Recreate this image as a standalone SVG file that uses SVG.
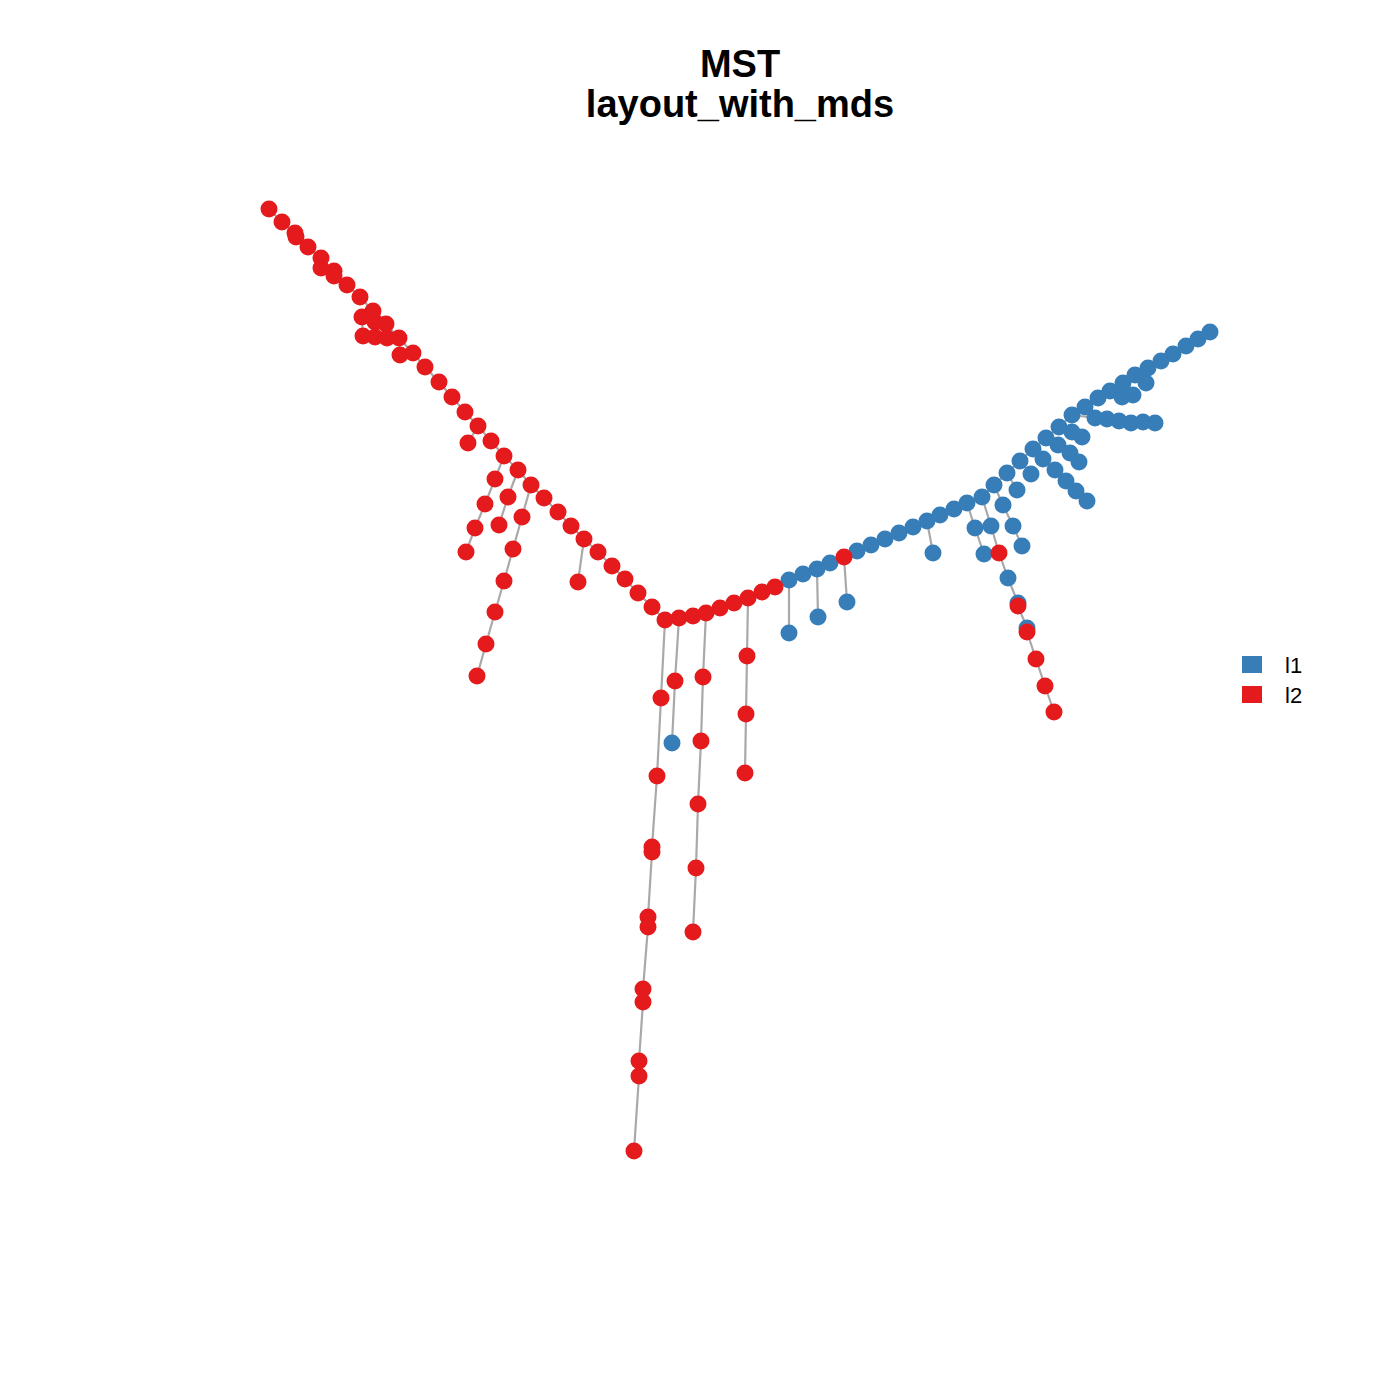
<svg xmlns="http://www.w3.org/2000/svg" width="1400" height="1400" viewBox="0 0 1400 1400">
<style>
.e{fill:none;stroke:#A9A9A9;stroke-width:2.2}
.b{fill:#377EB8}
.r{fill:#E41A1C}
.t{font-family:"Liberation Sans",Arial,sans-serif;font-weight:bold;font-size:38px;text-anchor:middle;fill:#000}
.l{font-family:"Liberation Sans",Arial,sans-serif;font-size:22px;fill:#000}
</style>
<rect width="1400" height="1400" fill="#fff"/>
<g id="title">
<text class="t" x="740" y="77">MST</text>
<text class="t" x="740" y="117">layout_with_mds</text>
</g>
<g id="edges">
<polyline class="e" points="269,209 282,222 295,233 296,237 308,247 321,258 321,268 334,271 334,276 347,285 360,297 373,311 386,324 399,338 413,353 425,367 439,382 452,397 465,412 478,426 491,441 504,456 518,470 531,485 544,498 558,512 571,526 584,539 598,552 612,566 625,579 638,593 652,607 665,620 679,618 693,616 706,613 720,608 734,603 748,598 762,592 775,587 789,580 803,574 817,569 830,563 844,557 857,551 871,545 885,539 899,533 913,527 927,521 940,515 954,509 967,503 982,497 994,485 1007,473 1020,461 1033,449 1046,438 1059,427 1072,415 1085,407 1098,398 1110,391 1123,383 1135,375 1148,368 1161,361 1173,354 1186,346 1198,339 1210,332"/>
<polyline class="e" points="373,311 362,317 363,336"/>
<polyline class="e" points="362,317 375,322 375,337"/>
<polyline class="e" points="386,324 387,338"/>
<polyline class="e" points="399,338 400,355"/>
<polyline class="e" points="478,426 468,443"/>
<polyline class="e" points="504,456 495,479 485,504 475,528 466,552"/>
<polyline class="e" points="518,470 508,497 499,525"/>
<polyline class="e" points="531,485 522,517 513,549 504,581 495,612 486,644 477,676"/>
<polyline class="e" points="584,539 578,582"/>
<polyline class="e" points="665,620 661,698 657,776 652,847 652,852 648,917 648,927 643,989 643,1002 639,1061 639,1076 634,1151"/>
<polyline class="e" points="679,618 675,681 672,743"/>
<polyline class="e" points="706,613 703,677 701,741 698,804 696,868 693,932"/>
<polyline class="e" points="748,598 747,656 746,714 745,773"/>
<polyline class="e" points="789,580 789,633"/>
<polyline class="e" points="817,569 818,617"/>
<polyline class="e" points="844,557 847,602"/>
<polyline class="e" points="927,521 933,553"/>
<polyline class="e" points="967,503 975,528 984,554"/>
<polyline class="e" points="982,497 991,526 999,553 1008,578 1018,603 1018,606 1027,628 1027,632 1036,659 1045,686 1054,712"/>
<polyline class="e" points="994,485 1003,505 1013,526 1022,546"/>
<polyline class="e" points="1007,473 1017,490"/>
<polyline class="e" points="1020,461 1031,474"/>
<polyline class="e" points="1033,449 1043,459 1055,470 1066,481 1076,491 1087,501"/>
<polyline class="e" points="1046,438 1058,445 1070,453 1079,462"/>
<polyline class="e" points="1059,427 1072,432 1082,437"/>
<polyline class="e" points="1072,415 1095,418 1107,419 1119,421 1131,423 1143,422 1155,423"/>
<polyline class="e" points="1110,391 1122,397 1133,395"/>
<polyline class="e" points="1135,375 1146,383"/>
</g>
<g id="nodes-l1">
<g id="b1"><circle class="b" cx="789" cy="580" r="8.5"/></g>
<g id="b2"><circle class="b" cx="803" cy="574" r="8.5"/></g>
<g id="b3"><circle class="b" cx="817" cy="569" r="8.5"/></g>
<g id="b4"><circle class="b" cx="830" cy="563" r="8.5"/></g>
<g id="b5"><circle class="b" cx="857" cy="551" r="8.5"/></g>
<g id="b6"><circle class="b" cx="871" cy="545" r="8.5"/></g>
<g id="b7"><circle class="b" cx="885" cy="539" r="8.5"/></g>
<g id="b8"><circle class="b" cx="899" cy="533" r="8.5"/></g>
<g id="b9"><circle class="b" cx="913" cy="527" r="8.5"/></g>
<g id="b10"><circle class="b" cx="927" cy="521" r="8.5"/></g>
<g id="b11"><circle class="b" cx="940" cy="515" r="8.5"/></g>
<g id="b12"><circle class="b" cx="954" cy="509" r="8.5"/></g>
<g id="b13"><circle class="b" cx="967" cy="503" r="8.5"/></g>
<g id="b14"><circle class="b" cx="982" cy="497" r="8.5"/></g>
<g id="b15"><circle class="b" cx="994" cy="485" r="8.5"/></g>
<g id="b16"><circle class="b" cx="1007" cy="473" r="8.5"/></g>
<g id="b17"><circle class="b" cx="1020" cy="461" r="8.5"/></g>
<g id="b18"><circle class="b" cx="1033" cy="449" r="8.5"/></g>
<g id="b19"><circle class="b" cx="1046" cy="438" r="8.5"/></g>
<g id="b20"><circle class="b" cx="1059" cy="427" r="8.5"/></g>
<g id="b21"><circle class="b" cx="1072" cy="415" r="8.5"/></g>
<g id="b22"><circle class="b" cx="1085" cy="407" r="8.5"/></g>
<g id="b23"><circle class="b" cx="1098" cy="398" r="8.5"/></g>
<g id="b24"><circle class="b" cx="1110" cy="391" r="8.5"/></g>
<g id="b25"><circle class="b" cx="1123" cy="383" r="8.5"/></g>
<g id="b26"><circle class="b" cx="1135" cy="375" r="8.5"/></g>
<g id="b27"><circle class="b" cx="1148" cy="368" r="8.5"/></g>
<g id="b28"><circle class="b" cx="1161" cy="361" r="8.5"/></g>
<g id="b29"><circle class="b" cx="1173" cy="354" r="8.5"/></g>
<g id="b30"><circle class="b" cx="1186" cy="346" r="8.5"/></g>
<g id="b31"><circle class="b" cx="1198" cy="339" r="8.5"/></g>
<g id="b32"><circle class="b" cx="1210" cy="332" r="8.5"/></g>
<g id="b33"><circle class="b" cx="789" cy="633" r="8.5"/></g>
<g id="b34"><circle class="b" cx="818" cy="617" r="8.5"/></g>
<g id="b35"><circle class="b" cx="847" cy="602" r="8.5"/></g>
<g id="b36"><circle class="b" cx="933" cy="553" r="8.5"/></g>
<g id="b37"><circle class="b" cx="975" cy="528" r="8.5"/></g>
<g id="b38"><circle class="b" cx="984" cy="554" r="8.5"/></g>
<g id="b39"><circle class="b" cx="991" cy="526" r="8.5"/></g>
<g id="b40"><circle class="b" cx="1008" cy="578" r="8.5"/></g>
<g id="b41"><circle class="b" cx="1018" cy="603" r="8.5"/></g>
<g id="b42"><circle class="b" cx="1027" cy="628" r="8.5"/></g>
<g id="b43"><circle class="b" cx="1003" cy="505" r="8.5"/></g>
<g id="b44"><circle class="b" cx="1013" cy="526" r="8.5"/></g>
<g id="b45"><circle class="b" cx="1022" cy="546" r="8.5"/></g>
<g id="b46"><circle class="b" cx="1017" cy="490" r="8.5"/></g>
<g id="b47"><circle class="b" cx="1031" cy="474" r="8.5"/></g>
<g id="b48"><circle class="b" cx="1043" cy="459" r="8.5"/></g>
<g id="b49"><circle class="b" cx="1055" cy="470" r="8.5"/></g>
<g id="b50"><circle class="b" cx="1066" cy="481" r="8.5"/></g>
<g id="b51"><circle class="b" cx="1076" cy="491" r="8.5"/></g>
<g id="b52"><circle class="b" cx="1087" cy="501" r="8.5"/></g>
<g id="b53"><circle class="b" cx="1058" cy="445" r="8.5"/></g>
<g id="b54"><circle class="b" cx="1070" cy="453" r="8.5"/></g>
<g id="b55"><circle class="b" cx="1079" cy="462" r="8.5"/></g>
<g id="b56"><circle class="b" cx="1072" cy="432" r="8.5"/></g>
<g id="b57"><circle class="b" cx="1082" cy="437" r="8.5"/></g>
<g id="b58"><circle class="b" cx="1095" cy="418" r="8.5"/></g>
<g id="b59"><circle class="b" cx="1107" cy="419" r="8.5"/></g>
<g id="b60"><circle class="b" cx="1119" cy="421" r="8.5"/></g>
<g id="b61"><circle class="b" cx="1131" cy="423" r="8.5"/></g>
<g id="b62"><circle class="b" cx="1143" cy="422" r="8.5"/></g>
<g id="b63"><circle class="b" cx="1155" cy="423" r="8.5"/></g>
<g id="b64"><circle class="b" cx="1122" cy="397" r="8.5"/></g>
<g id="b65"><circle class="b" cx="1133" cy="395" r="8.5"/></g>
<g id="b66"><circle class="b" cx="1146" cy="383" r="8.5"/></g>
<g id="b67"><circle class="b" cx="672" cy="743" r="8.5"/></g>
</g>
<g id="nodes-l2">
<g id="r1"><circle class="r" cx="269" cy="209" r="8.5"/></g>
<g id="r2"><circle class="r" cx="282" cy="222" r="8.5"/></g>
<g id="r3"><circle class="r" cx="295" cy="233" r="8.5"/></g>
<g id="r4"><circle class="r" cx="296" cy="237" r="8.5"/></g>
<g id="r5"><circle class="r" cx="308" cy="247" r="8.5"/></g>
<g id="r6"><circle class="r" cx="321" cy="258" r="8.5"/></g>
<g id="r7"><circle class="r" cx="321" cy="268" r="8.5"/></g>
<g id="r8"><circle class="r" cx="334" cy="271" r="8.5"/></g>
<g id="r9"><circle class="r" cx="334" cy="276" r="8.5"/></g>
<g id="r10"><circle class="r" cx="347" cy="285" r="8.5"/></g>
<g id="r11"><circle class="r" cx="360" cy="297" r="8.5"/></g>
<g id="r12"><circle class="r" cx="373" cy="311" r="8.5"/></g>
<g id="r13"><circle class="r" cx="362" cy="317" r="8.5"/></g>
<g id="r14"><circle class="r" cx="375" cy="322" r="8.5"/></g>
<g id="r15"><circle class="r" cx="386" cy="324" r="8.5"/></g>
<g id="r16"><circle class="r" cx="363" cy="336" r="8.5"/></g>
<g id="r17"><circle class="r" cx="375" cy="337" r="8.5"/></g>
<g id="r18"><circle class="r" cx="387" cy="338" r="8.5"/></g>
<g id="r19"><circle class="r" cx="399" cy="338" r="8.5"/></g>
<g id="r20"><circle class="r" cx="400" cy="355" r="8.5"/></g>
<g id="r21"><circle class="r" cx="413" cy="353" r="8.5"/></g>
<g id="r22"><circle class="r" cx="425" cy="367" r="8.5"/></g>
<g id="r23"><circle class="r" cx="439" cy="382" r="8.5"/></g>
<g id="r24"><circle class="r" cx="452" cy="397" r="8.5"/></g>
<g id="r25"><circle class="r" cx="465" cy="412" r="8.5"/></g>
<g id="r26"><circle class="r" cx="478" cy="426" r="8.5"/></g>
<g id="r27"><circle class="r" cx="468" cy="443" r="8.5"/></g>
<g id="r28"><circle class="r" cx="491" cy="441" r="8.5"/></g>
<g id="r29"><circle class="r" cx="504" cy="456" r="8.5"/></g>
<g id="r30"><circle class="r" cx="518" cy="470" r="8.5"/></g>
<g id="r31"><circle class="r" cx="531" cy="485" r="8.5"/></g>
<g id="r32"><circle class="r" cx="544" cy="498" r="8.5"/></g>
<g id="r33"><circle class="r" cx="558" cy="512" r="8.5"/></g>
<g id="r34"><circle class="r" cx="571" cy="526" r="8.5"/></g>
<g id="r35"><circle class="r" cx="584" cy="539" r="8.5"/></g>
<g id="r36"><circle class="r" cx="598" cy="552" r="8.5"/></g>
<g id="r37"><circle class="r" cx="612" cy="566" r="8.5"/></g>
<g id="r38"><circle class="r" cx="625" cy="579" r="8.5"/></g>
<g id="r39"><circle class="r" cx="638" cy="593" r="8.5"/></g>
<g id="r40"><circle class="r" cx="652" cy="607" r="8.5"/></g>
<g id="r41"><circle class="r" cx="665" cy="620" r="8.5"/></g>
<g id="r42"><circle class="r" cx="679" cy="618" r="8.5"/></g>
<g id="r43"><circle class="r" cx="693" cy="616" r="8.5"/></g>
<g id="r44"><circle class="r" cx="706" cy="613" r="8.5"/></g>
<g id="r45"><circle class="r" cx="720" cy="608" r="8.5"/></g>
<g id="r46"><circle class="r" cx="734" cy="603" r="8.5"/></g>
<g id="r47"><circle class="r" cx="748" cy="598" r="8.5"/></g>
<g id="r48"><circle class="r" cx="762" cy="592" r="8.5"/></g>
<g id="r49"><circle class="r" cx="775" cy="587" r="8.5"/></g>
<g id="r50"><circle class="r" cx="844" cy="557" r="8.5"/></g>
<g id="r51"><circle class="r" cx="495" cy="479" r="8.5"/></g>
<g id="r52"><circle class="r" cx="485" cy="504" r="8.5"/></g>
<g id="r53"><circle class="r" cx="475" cy="528" r="8.5"/></g>
<g id="r54"><circle class="r" cx="466" cy="552" r="8.5"/></g>
<g id="r55"><circle class="r" cx="508" cy="497" r="8.5"/></g>
<g id="r56"><circle class="r" cx="499" cy="525" r="8.5"/></g>
<g id="r57"><circle class="r" cx="522" cy="517" r="8.5"/></g>
<g id="r58"><circle class="r" cx="513" cy="549" r="8.5"/></g>
<g id="r59"><circle class="r" cx="504" cy="581" r="8.5"/></g>
<g id="r60"><circle class="r" cx="495" cy="612" r="8.5"/></g>
<g id="r61"><circle class="r" cx="486" cy="644" r="8.5"/></g>
<g id="r62"><circle class="r" cx="477" cy="676" r="8.5"/></g>
<g id="r63"><circle class="r" cx="578" cy="582" r="8.5"/></g>
<g id="r64"><circle class="r" cx="661" cy="698" r="8.5"/></g>
<g id="r65"><circle class="r" cx="657" cy="776" r="8.5"/></g>
<g id="r66"><circle class="r" cx="652" cy="847" r="8.5"/></g>
<g id="r67"><circle class="r" cx="652" cy="852" r="8.5"/></g>
<g id="r68"><circle class="r" cx="648" cy="917" r="8.5"/></g>
<g id="r69"><circle class="r" cx="648" cy="927" r="8.5"/></g>
<g id="r70"><circle class="r" cx="643" cy="989" r="8.5"/></g>
<g id="r71"><circle class="r" cx="643" cy="1002" r="8.5"/></g>
<g id="r72"><circle class="r" cx="639" cy="1061" r="8.5"/></g>
<g id="r73"><circle class="r" cx="639" cy="1076" r="8.5"/></g>
<g id="r74"><circle class="r" cx="634" cy="1151" r="8.5"/></g>
<g id="r75"><circle class="r" cx="675" cy="681" r="8.5"/></g>
<g id="r76"><circle class="r" cx="703" cy="677" r="8.5"/></g>
<g id="r77"><circle class="r" cx="701" cy="741" r="8.5"/></g>
<g id="r78"><circle class="r" cx="698" cy="804" r="8.5"/></g>
<g id="r79"><circle class="r" cx="696" cy="868" r="8.5"/></g>
<g id="r80"><circle class="r" cx="693" cy="932" r="8.5"/></g>
<g id="r81"><circle class="r" cx="747" cy="656" r="8.5"/></g>
<g id="r82"><circle class="r" cx="746" cy="714" r="8.5"/></g>
<g id="r83"><circle class="r" cx="745" cy="773" r="8.5"/></g>
<g id="r84"><circle class="r" cx="999" cy="553" r="8.5"/></g>
<g id="r85"><circle class="r" cx="1018" cy="606" r="8.5"/></g>
<g id="r86"><circle class="r" cx="1027" cy="632" r="8.5"/></g>
<g id="r87"><circle class="r" cx="1036" cy="659" r="8.5"/></g>
<g id="r88"><circle class="r" cx="1045" cy="686" r="8.5"/></g>
<g id="r89"><circle class="r" cx="1054" cy="712" r="8.5"/></g>
</g>
<g id="legend">
<rect class="b" x="1242" y="656" width="20" height="17"/>
<rect class="r" x="1242" y="686" width="20" height="17"/>
<text class="l" x="1285" y="673">l1</text>
<text class="l" x="1285" y="703">l2</text>
</g>
</svg>
